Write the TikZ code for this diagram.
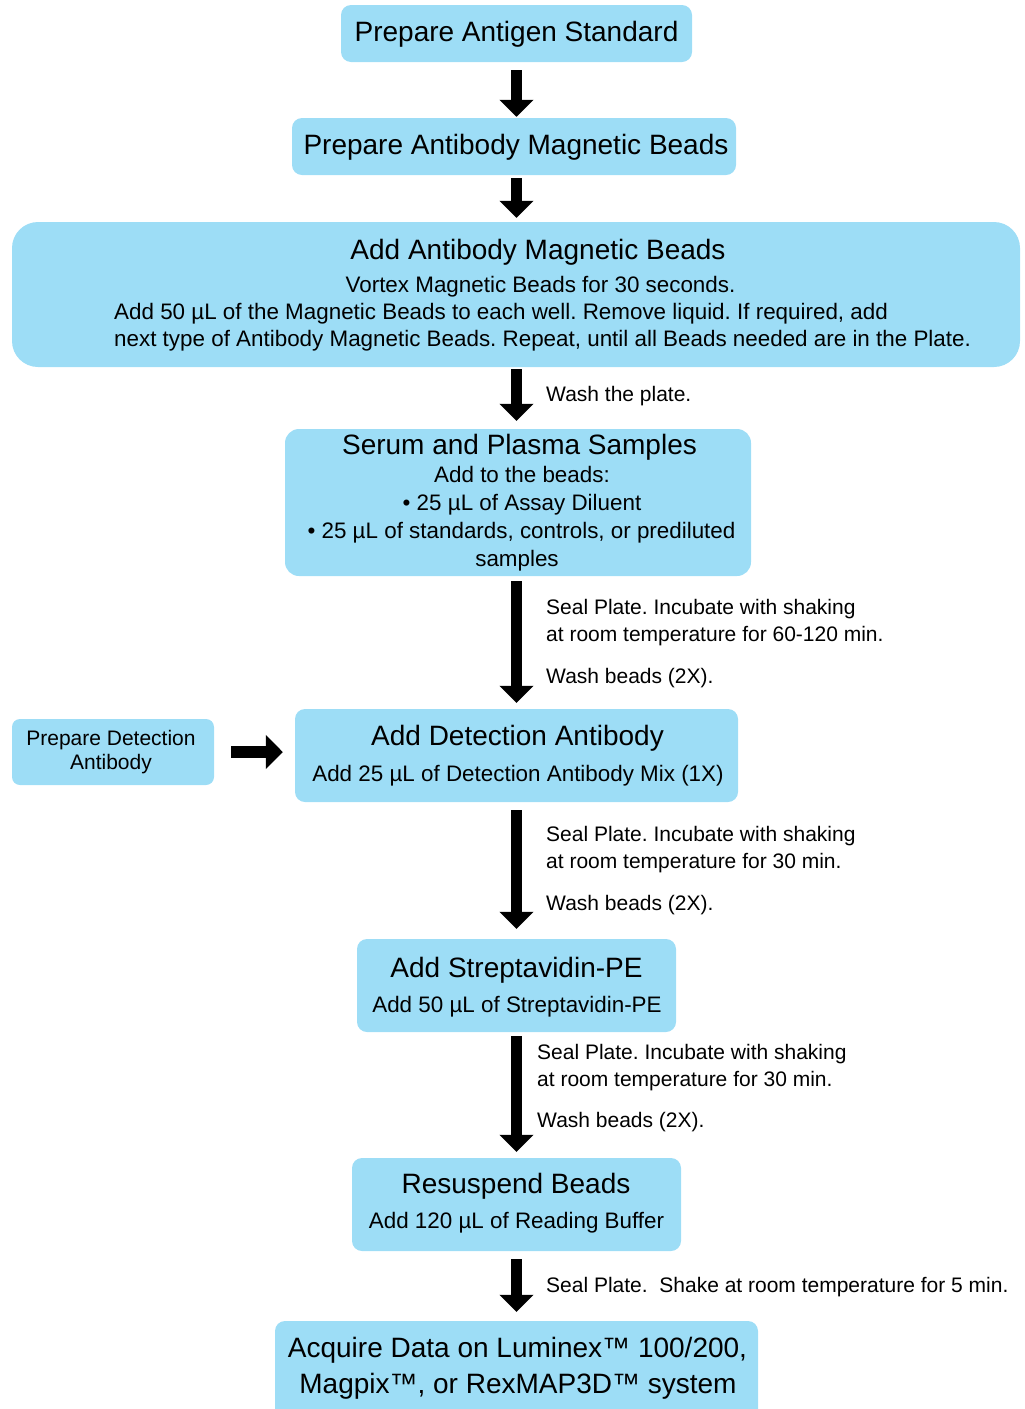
\documentclass[tikz,border=0pt]{standalone}
\usepackage{fontspec}
\setmainfont{Liberation Sans}
\usetikzlibrary{arrows.meta}
\definecolor{boxblue}{RGB}{157,221,246}
\frenchspacing
\begin{document}
\begin{tikzpicture}[x=1pt,y=-1pt,
  box/.style={fill=boxblue, draw=none, rounded corners=10pt, inner sep=0pt},
  ttl/.style={anchor=base, font=\fontsize{28}{33}\selectfont, inner sep=0pt},
  bdy/.style={anchor=base, font=\fontsize{22.4}{27}\selectfont, inner sep=0pt},
  bdyl/.style={anchor=base west, font=\fontsize{22.4}{27}\selectfont, inner sep=0pt},
  sml/.style={anchor=base, font=\fontsize{21}{25}\selectfont, inner sep=0pt},
  lbl/.style={anchor=base west, font=\fontsize{21}{26}\selectfont, inner sep=0pt},
  flow/.style={line width=11.5pt, -{Triangle[width=33pt,length=17pt]}},
]
\useasboundingbox (0,0) rectangle (1025,1409);

% boxes
\node[box, minimum width=351pt, minimum height=57pt] (b1) at (516.5,33.5) {};
\node[box, minimum width=444pt, minimum height=57pt] (b2) at (514,146.5) {};
\node[box, rounded corners=26pt, minimum width=1008pt, minimum height=145pt] (b3) at (516,294.5) {};
\node[box, rounded corners=14pt, minimum width=466pt, minimum height=147pt] (b4) at (518,502.5) {};
\node[box, minimum width=443pt, minimum height=93pt] (b5) at (516.5,755.5) {};
\node[box, rounded corners=8pt, minimum width=202pt, minimum height=66pt] (b6) at (113,752) {};
\node[box, minimum width=319pt, minimum height=93pt] (b7) at (516.5,985.5) {};
\node[box, minimum width=329pt, minimum height=93pt] (b8) at (516.5,1204.5) {};
\node[box, minimum width=483pt, minimum height=99pt] (b9) at (516.5,1370.5) {};

% texts in boxes
\node[ttl] (t1) at (516.5,41) {Prepare Antigen Standard};
\node[ttl] (t2) at (516,154) {Prepare Antibody Magnetic Beads};
\node[ttl] (t3) at (538,259) {Add Antibody Magnetic Beads};
\node[bdy] (t3a) at (540.5,292) {Vortex Magnetic Beads for 30 seconds.};
\node[bdyl] (t3b) at (114,319) {Add 50 µL of the Magnetic Beads to each well. Remove liquid. If required, add};
\node[bdyl] (t3c) at (114,346) {next type of Antibody Magnetic Beads. Repeat, until all Beads needed are in the Plate.};
\node[ttl] (t4) at (519.5,454) {Serum and Plasma Samples};
\node[bdy] (t4a) at (522,482) {Add to the beads:};
\node[bdy] (t4b) at (522,510) {• 25 µL of Assay Diluent};
\node[bdy] (t4c) at (521.5,538) {• 25 µL of standards, controls, or prediluted};
\node[bdy] (t4d) at (517,566) {samples};
\node[ttl] (t5) at (517.5,745) {Add Detection Antibody};
\node[bdy] (t5a) at (518,781) {Add 25 µL of Detection Antibody Mix (1X)};
\node[sml] (t6a) at (111,745) {Prepare Detection};
\node[sml] (t6b) at (111,769) {Antibody};
\node[ttl] (t7) at (516.5,977) {Add Streptavidin-PE};
\node[bdy] (t7a) at (517,1012) {Add 50 µL of Streptavidin-PE};
\node[ttl] (t8) at (516,1193) {Resuspend Beads};
\node[bdy] (t8a) at (516.5,1228) {Add 120 µL of Reading Buffer};
\node[ttl] (t9a) at (517.5,1357) {Acquire Data on Luminex™ 100/200,};
\node[ttl] (t9b) at (518,1393) {Magpix™, or RexMAP3D™ system};

% arrows
\draw[flow, shorten <=8pt, shorten >=1pt] (b1.south) -- (b1.south |- b2.north);
\draw[flow, shorten <=3pt, shorten >=4pt] (b1.south |- b2.south) -- (b1.south |- b3.north);
\draw[flow, shorten <=2pt, shorten >=8pt] (b1.south |- b3.south) -- (b1.south |- b4.north);
\draw[flow, shorten <=5pt, shorten >=6pt] (b1.south |- b4.south) -- (b1.south |- b5.north);
\draw[flow, shorten <=8pt, shorten >=10pt] (b1.south |- b5.south) -- (b1.south |- b7.north);
\draw[flow, shorten <=4pt, shorten >=6pt] (b1.south |- b7.south) -- (b1.south |- b8.north);
\draw[flow, shorten <=8pt, shorten >=9pt] (b1.south |- b8.south) -- (b1.south |- b9.north);
\draw[flow, shorten <=17pt, shorten >=12pt] (b6.east) -- (b6.east -| b5.west);

% connector labels
\node[lbl] (l1) at (546,401) {Wash the plate.};
\node[lbl] (l2a) at (546,614) {Seal Plate. Incubate with shaking};
\node[lbl] (l2b) at (546,641) {at room temperature for 60-120 min.};
\node[lbl] (l2c) at (546,683) {Wash beads (2X).};
\node[lbl] (l3a) at (546,841) {Seal Plate. Incubate with shaking};
\node[lbl] (l3b) at (546,868) {at room temperature for 30 min.};
\node[lbl] (l3c) at (546,910) {Wash beads (2X).};
\node[lbl] (l4a) at (537,1059) {Seal Plate. Incubate with shaking};
\node[lbl] (l4b) at (537,1086) {at room temperature for 30 min.};
\node[lbl] (l4c) at (537,1127) {Wash beads (2X).};
\node[lbl] (l5) at (546,1292) {Seal Plate.\ \ Shake at room temperature for 5 min.};
\end{tikzpicture}
\end{document}
